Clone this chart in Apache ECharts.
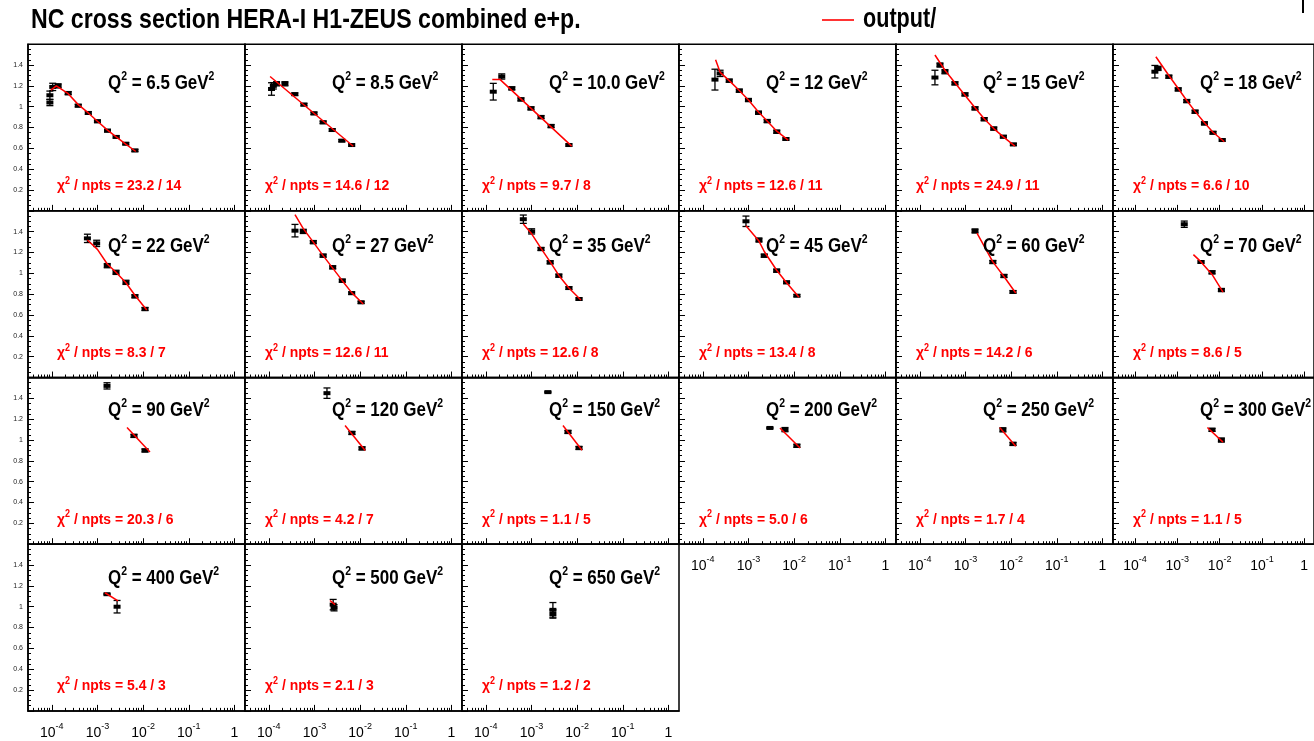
<!DOCTYPE html>
<html><head><meta charset="utf-8">
<script src="https://cdn.jsdelivr.net/npm/echarts@6/dist/echarts.min.js"></script>
<style>html,body{margin:0;padding:0;background:#fff}#c{width:1314px;height:741px}</style>
</head><body><div id="c"></div>
<script>
// ---------------- data ----------------
const chartTitle = 'NC cross section HERA-I H1-ZEUS combined e+p.';
const legendLabel = 'output/';
const q2Labels = ['6.5','8.5','10.0','12','15','18','22','27','35','45','60','70','90','120','150','200','250','300','400','500','650'];
const chi2Labels = ['23.2 / 14','14.6 / 12','9.7 / 8','12.6 / 11','24.9 / 11','6.6 / 10','8.3 / 7','12.6 / 11','12.6 / 8','13.4 / 8','14.2 / 6','8.6 / 5','20.3 / 6','4.2 / 7','1.1 / 5','5.0 / 6','1.7 / 4','1.1 / 5','5.4 / 3','2.1 / 3','1.2 / 2'];
const xTickExponents = [-4, -3, -2, -1, 0];
const yTickValues = [0.2, 0.4, 0.6, 0.8, 1.0, 1.2, 1.4];

// measured points per panel: [x, sigma_r, error]
const points = [
  [[9.1e-5,1.04,0.03],[9.1e-5,1.11,0.04],[1.05e-4,1.19,0.035],[1.38e-4,1.20,0.02],[2.29e-4,1.13,0.015],[3.80e-4,1.01,0.012],[6.31e-4,0.94,0.012],[1.0e-3,0.86,0.012],[1.66e-3,0.77,0.012],[2.57e-3,0.71,0.01],[4.17e-3,0.645,0.01],[6.61e-3,0.58,0.01]],
  [[1.15e-4,1.17,0.06],[1.26e-4,1.20,0.03],[1.48e-4,1.22,0.02],[2.26e-4,1.22,0.02],[3.72e-4,1.12,0.012],[5.89e-4,1.02,0.012],[9.77e-4,0.936,0.012],[1.55e-3,0.85,0.012],[2.45e-3,0.776,0.012],[3.98e-3,0.674,0.01],[6.53e-3,0.632,0.01]],
  [[1.46e-4,1.144,0.08],[2.24e-4,1.29,0.025],[3.72e-4,1.176,0.015],[5.89e-4,1.07,0.015],[9.77e-4,0.984,0.015],[1.62e-3,0.90,0.015],[2.69e-3,0.814,0.015],[6.61e-3,0.632,0.01]],
  [[1.85e-4,1.26,0.1],[2.40e-4,1.32,0.03],[3.80e-4,1.25,0.015],[6.31e-4,1.154,0.015],[1.0e-3,1.064,0.015],[1.66e-3,0.942,0.015],[2.57e-3,0.862,0.015],[4.17e-3,0.76,0.015],[6.61e-3,0.69,0.01]],
  [[2.15e-4,1.28,0.07],[2.77e-4,1.40,0.02],[3.56e-4,1.336,0.02],[5.89e-4,1.224,0.015],[9.77e-4,1.118,0.015],[1.62e-3,0.984,0.015],[2.57e-3,0.88,0.015],[4.17e-3,0.79,0.015],[6.76e-3,0.712,0.012],[1.12e-2,0.638,0.01]],
  [[2.95e-4,1.336,0.06],[3.51e-4,1.368,0.02],[6.31e-4,1.288,0.015],[1.05e-3,1.166,0.015],[1.67e-3,1.054,0.015],[2.63e-3,0.952,0.015],[4.37e-3,0.84,0.015],[6.97e-3,0.75,0.012],[1.15e-2,0.68,0.01]],
  [[6.03e-4,1.336,0.04],[9.62e-4,1.288,0.03],[1.64e-3,1.074,0.02],[2.55e-3,1.01,0.02],[4.21e-3,0.914,0.02],[6.61e-3,0.78,0.015],[1.10e-2,0.658,0.015]],
  [[3.75e-4,1.41,0.06],[5.70e-4,1.403,0.02],[9.44e-4,1.30,0.015],[1.55e-3,1.17,0.015],[2.51e-3,1.058,0.015],[4.07e-3,0.93,0.015],[6.53e-3,0.81,0.012],[1.05e-2,0.722,0.01]],
  [[6.64e-4,1.52,0.04],[1.01e-3,1.403,0.025],[1.62e-3,1.234,0.015],[2.57e-3,1.106,0.015],[3.98e-3,0.978,0.015],[6.61e-3,0.859,0.012],[1.10e-2,0.754,0.01]],
  [[8.83e-4,1.50,0.05],[1.70e-3,1.32,0.02],[2.22e-3,1.17,0.015],[4.15e-3,1.026,0.015],[6.84e-3,0.914,0.012],[1.15e-2,0.786,0.01]],
  [[1.62e-3,1.407,0.02],[3.98e-3,1.109,0.015],[6.97e-3,0.975,0.015],[1.10e-2,0.822,0.012]],
  [[1.46e-3,1.472,0.03],[3.63e-3,1.109,0.01],[6.61e-3,1.01,0.015],[1.10e-2,0.84,0.015]],
  [[1.62e-3,1.52,0.03],[6.31e-3,1.04,0.015],[1.10e-2,0.90,0.015]],
  [[1.88e-3,1.45,0.05],[6.62e-3,1.068,0.015],[1.10e-2,0.92,0.015]],
  [[2.29e-3,1.46,0.005],[6.31e-3,1.078,0.015],[1.10e-2,0.924,0.015]],
  [[2.95e-3,1.116,0.005],[6.31e-3,1.10,0.02],[1.15e-2,0.945,0.015]],
  [[6.61e-3,1.098,0.02],[1.10e-2,0.963,0.015]],
  [[6.61e-3,1.098,0.015],[1.10e-2,1.0,0.02]],
  [[1.62e-3,1.12,0.005],[2.69e-3,1.00,0.06]],
  [[2.57e-3,1.02,0.05],[2.69e-3,0.99,0.03]],
  [[2.95e-3,0.97,0.07],[2.95e-3,0.93,0.04]]
];

// fitted curve per panel: [x, sigma_r]
const fits = [
  [[9.55e-5,1.16],[1.26e-4,1.20],[2.29e-4,1.125],[3.80e-4,1.02],[6.31e-4,0.94],[1.0e-3,0.86],[1.66e-3,0.775],[2.57e-3,0.71],[4.17e-3,0.64],[6.92e-3,0.57]],
  [[1.07e-4,1.29],[7.08e-3,0.62]],
  [[1.39e-4,1.262],[2.04e-4,1.262],[7.59e-3,0.622]],
  [[1.91e-4,1.45],[2.40e-4,1.33],[3.80e-4,1.25],[6.31e-4,1.155],[1.0e-3,1.065],[1.66e-3,0.95],[2.57e-3,0.862],[4.17e-3,0.765],[7.41e-3,0.68]],
  [[2.15e-4,1.496],[3.56e-4,1.35],[5.89e-4,1.23],[9.77e-4,1.11],[1.62e-3,0.99],[2.57e-3,0.885],[4.17e-3,0.79],[6.76e-3,0.71],[1.21e-2,0.622]],
  [[3.11e-4,1.48],[6.31e-4,1.30],[1.05e-3,1.175],[1.67e-3,1.06],[2.63e-3,0.955],[4.37e-3,0.845],[6.97e-3,0.755],[1.29e-2,0.664]],
  [[6.03e-4,1.32],[1.0e-3,1.23],[1.64e-3,1.09],[2.55e-3,1.01],[4.21e-3,0.91],[6.61e-3,0.79],[1.20e-2,0.648]],
  [[3.75e-4,1.563],[5.70e-4,1.43],[9.44e-4,1.30],[1.55e-3,1.17],[2.51e-3,1.05],[4.07e-3,0.93],[6.53e-3,0.815],[1.17e-2,0.706]],
  [[6.64e-4,1.474],[1.01e-3,1.38],[1.62e-3,1.24],[2.57e-3,1.11],[3.98e-3,0.98],[6.61e-3,0.86],[1.21e-2,0.744]],
  [[8.83e-4,1.458],[1.70e-3,1.31],[2.22e-3,1.21],[4.15e-3,1.03],[6.84e-3,0.91],[1.28e-2,0.77]],
  [[1.79e-3,1.387],[3.98e-3,1.11],[6.97e-3,0.97],[1.26e-2,0.812]],
  [[2.40e-3,1.18],[3.63e-3,1.11],[6.61e-3,0.99],[1.20e-2,0.82]],
  [[4.44e-3,1.12],[1.41e-2,0.886]],
  [[4.68e-3,1.14],[1.29e-2,0.90]],
  [[4.90e-3,1.14],[1.28e-2,0.902]],
  [[4.90e-3,1.116],[1.35e-2,0.924]],
  [[5.62e-3,1.12],[1.26e-2,0.94]],
  [[5.13e-3,1.12],[1.20e-2,0.98]],
  [[1.46e-3,1.134],[2.82e-3,1.057]],
  [[2.19e-3,1.06],[2.82e-3,1.02]],
  []
];

// ---------------- layout ----------------
const NCOL = 6;
const PANEL_W = 217, PANEL_H = 166.67, X0 = 28, Y0 = 44.2;
const X_MIN_LOG = -4.52, X_MAX_LOG = 0.23;
const qTopOff = [39, 36, 33, 34];
const FONT = "'Liberation Sans', Arial, sans-serif";

const minorTicks = [];
for (let n = -5; n <= 0; n++) {
  for (let k = 2; k <= 9; k++) {
    const v = n + Math.log10(k);
    if (v > X_MIN_LOG && v < X_MAX_LOG) minorTicks.push(v);
  }
}
function xLabel(v) {
  const e = Math.round(v);
  if (e === 0) return '{b|1}';
  return '{b|10}{s|' + e + '}';
}

function renderPoint(params, api) {
  const x = api.value(0), y = api.value(1), e = api.value(2);
  const c = api.coord([x, y]);
  const t = api.coord([x, y + e]);
  const b = api.coord([x, y - e]);
  const cap = 3.5;
  const st = {stroke: '#000', lineWidth: 1.3};
  return {type: 'group', children: [
    {type: 'line', shape: {x1: c[0], y1: t[1], x2: c[0], y2: b[1]}, style: st},
    {type: 'line', shape: {x1: c[0] - cap, y1: t[1], x2: c[0] + cap, y2: t[1]}, style: st},
    {type: 'line', shape: {x1: c[0] - cap, y1: b[1], x2: c[0] + cap, y2: b[1]}, style: st},
    {type: 'rect', shape: {x: c[0] - 3.5, y: c[1] - 2, width: 7, height: 4}, style: {fill: '#000'}}
  ]};
}

function textEl(x, y, text, size, supSize, color, sx, lh) {
  return {type: 'text', x: x, y: y, scaleX: sx, z: 100, silent: true,
    style: {text: text, fontFamily: FONT, fontWeight: 'bold', fontSize: size, lineHeight: lh,
      fill: color, verticalAlign: 'middle', align: 'left',
      rich: {s: {fontFamily: FONT, fontWeight: 'bold', fontSize: supSize, lineHeight: supSize, verticalAlign: 'top', fill: color}}}};
}

const grids = [], xAxes = [], yAxes = [], series = [];
const graphics = [
  textEl(31, 21, chartTitle, 27, 16, '#000', 0.857, 28),
  textEl(863, 20, legendLabel, 27, 16, '#000', 0.8, 28),
  {type: 'line', shape: {x1: 822, y1: 20, x2: 854, y2: 20}, style: {stroke: '#ff0000', lineWidth: 1.6}},
  {type: 'rect', shape: {x: 1302, y: 0, width: 2, height: 13}, style: {fill: '#000'}}
];

q2Labels.forEach((q, i) => {
  const row = Math.floor(i / NCOL), col = i % NCOL;
  const L = X0 + col * PANEL_W, T = Y0 + row * PANEL_H;
  const showX = row === 3 || (row === 2 && col >= 3);
  grids.push({left: L, top: T, width: PANEL_W, height: PANEL_H, show: true,
    borderColor: '#000', borderWidth: 1.5, backgroundColor: '#fff'});
  xAxes.push({gridIndex: i, type: 'value', position: 'bottom', min: X_MIN_LOG, max: X_MAX_LOG,
    axisLine: {show: true, onZero: false, lineStyle: {color: '#000', width: 1.5}},
    axisTick: {show: true, inside: true, length: 6, customValues: xTickExponents, lineStyle: {color: '#000'}},
    axisLabel: {show: showX, customValues: xTickExponents, margin: 11, color: '#000',
      formatter: xLabel,
      rich: {b: {fontFamily: FONT, fontSize: 14, lineHeight: 22, color: '#000'},
             s: {fontFamily: FONT, fontSize: 9, lineHeight: 10, verticalAlign: 'top', color: '#000'}}},
    splitLine: {show: false}});
  xAxes.push({gridIndex: i, type: 'value', position: 'bottom', min: X_MIN_LOG, max: X_MAX_LOG,
    axisLine: {show: false, onZero: false},
    axisTick: {show: true, inside: true, length: 3, customValues: minorTicks, lineStyle: {color: '#000'}},
    axisLabel: {show: false}, splitLine: {show: false}});
  yAxes.push({gridIndex: i, type: 'value', min: 0, max: 1.6, interval: 0.2,
    axisLine: {show: true, onZero: false, lineStyle: {color: '#000', width: 1.5}},
    axisTick: {show: true, inside: true, length: 6, lineStyle: {color: '#000'}},
    minorTick: {show: true, splitNumber: 4, length: 3, lineStyle: {color: '#000'}},
    axisLabel: {show: col === 0, customValues: yTickValues, fontFamily: FONT, fontSize: 7, color: '#222', margin: 5,
      formatter: v => String(+v.toFixed(1))},
    splitLine: {show: false}});
  series.push({type: 'custom', xAxisIndex: 2 * i, yAxisIndex: i, renderItem: renderPoint, z: 4, silent: true,
    data: points[i].map(p => [Math.log10(p[0]), p[1], p[2]])});
  series.push({type: 'line', xAxisIndex: 2 * i, yAxisIndex: i, symbol: 'none', z: 5, silent: true,
    lineStyle: {color: '#ff0000', width: 1.5},
    data: fits[i].map(p => [Math.log10(p[0]), p[1]])});
  graphics.push(textEl(L + (col === 0 ? 80 : 87), T + qTopOff[row], 'Q{s|2} = ' + q + ' GeV{s|2}', 19.5, 12, '#000', 0.87, 26));
  graphics.push(textEl(L + (col === 0 ? 29 : 20), T + 142, 'χ{s|2} / npts = ' + chi2Labels[i], 15.5, 10, '#ff0000', 0.9, 20));
});

const chart = echarts.init(document.getElementById('c'), null, {renderer: 'canvas'});
chart.setOption({
  animation: false,
  backgroundColor: '#fff',
  grid: grids, xAxis: xAxes, yAxis: yAxes, series: series,
  graphic: graphics
});
</script></body></html>
